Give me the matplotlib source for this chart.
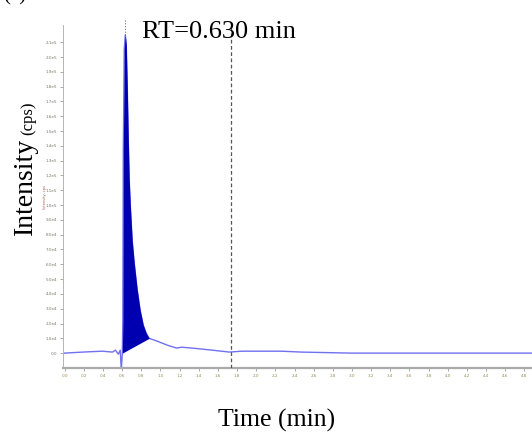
import matplotlib
matplotlib.use("Agg")
import matplotlib.pyplot as plt
import numpy as np

# Chromatogram trace (time in min, intensity in cps)
time = [0.0, 0.19, 0.39, 0.50, 0.53, 0.56, 0.58, 0.591, 0.602, 0.607, 0.612,
        0.622, 0.633, 0.643, 0.654, 0.664, 0.674, 0.685, 0.705, 0.726, 0.757,
        0.788, 0.820, 0.851, 0.882, 0.965, 1.07, 1.17, 1.22, 1.33, 1.54, 1.72,
        1.85, 2.26, 2.47, 2.99, 4.88]
intensity = [0, 700, 1300, 700, 2000, -700, 2000, -11500, 0, 22000, 137000,
             205000, 215000, 208000, 178000, 144000, 117000, 100000, 76000,
             61000, 43000, 29000, 19000, 13500, 10000, 8100, 5400, 3400, 4000,
             3400, 2000, 700, 1300, 1300, 700, 0, 0]

# integrated peak limits and the retention time marker
peak_start, peak_end = 0.602, 0.882
peak_rt = 0.630
cursor_time = 1.74

xticks = np.arange(0, 4.81, 0.2)
yticks = np.arange(0, 2.11e5, 1e4)

serif = "Liberation Serif"

fig = plt.figure(figsize=(5.32, 4.32), dpi=100)
ax = fig.add_axes([0.118, 0.148, 0.882, 0.794])

t = np.array(time)
y = np.array(intensity)
ax.plot(t, y, color="#7070f0", lw=1.0, zorder=2)

# filled peak above the straight baseline between start and end
mask = (t >= peak_start) & (t <= peak_end)
tp = t[mask]
yp = y[mask]
base = np.interp(tp, [peak_start, peak_end],
                 [np.interp(peak_start, t, y), np.interp(peak_end, t, y)])
ax.fill_between(tp, base, yp, color="#0000b0", lw=0, zorder=3)

ax.axvline(cursor_time, color="#555555", lw=0.9, ls=(0, (3, 2)), zorder=4)
ax.plot([peak_rt, peak_rt], [2.15e5, 2.25e5], color="#777777", lw=0.8,
        ls=(0, (1, 1.5)), clip_on=False)

ax.set_xlim(-0.02, 4.88)
ax.set_ylim(-1.01e4, 2.216e5)
ax.set_xticks(xticks)
ax.set_xticklabels([f"{v:.1f}" for v in xticks], fontsize=3)
ax.set_yticks(yticks)
ax.set_yticklabels(["0.0"] + [f"{v:.1e}".replace("+0", "") for v in yticks[1:]],
                   fontsize=3)
ax.tick_params(axis="both", length=2, width=0.5, colors="#888888", pad=2)
for lab in ax.get_xticklabels():
    lab.set_color("#998855")
for lab in ax.get_yticklabels():
    lab.set_color("#777766")

for side in ["top", "right"]:
    ax.spines[side].set_visible(False)
ax.spines["left"].set_color("#aaaaaa")
ax.spines["left"].set_linewidth(0.6)
ax.spines["bottom"].set_color("#aaaaaa")
ax.spines["bottom"].set_linewidth(1.6)

fig.text(0.085, 0.544, "Intensity, cps", rotation=90, fontsize=2.5,
         color="#aa5555", ha="center", va="center")

fig.text(0.267, 0.912, "RT=0.630 min", family=serif, fontsize=19,
         ha="left", va="baseline")
fig.text(0.047, 0.569, "Intensity", family=serif, fontsize=20, rotation=90,
         ha="center", va="center")
fig.text(0.053, 0.688, "(cps)", family=serif, fontsize=12, rotation=90,
         ha="center", va="bottom")
fig.text(0.519, 0.0116, "Time (min)", family=serif, fontsize=18.5,
         ha="center", va="baseline")
fig.text(0.005, 1.01, "(a)", family=serif, fontsize=15, ha="left",
         va="center")

fig.savefig("out.png", dpi=100)
